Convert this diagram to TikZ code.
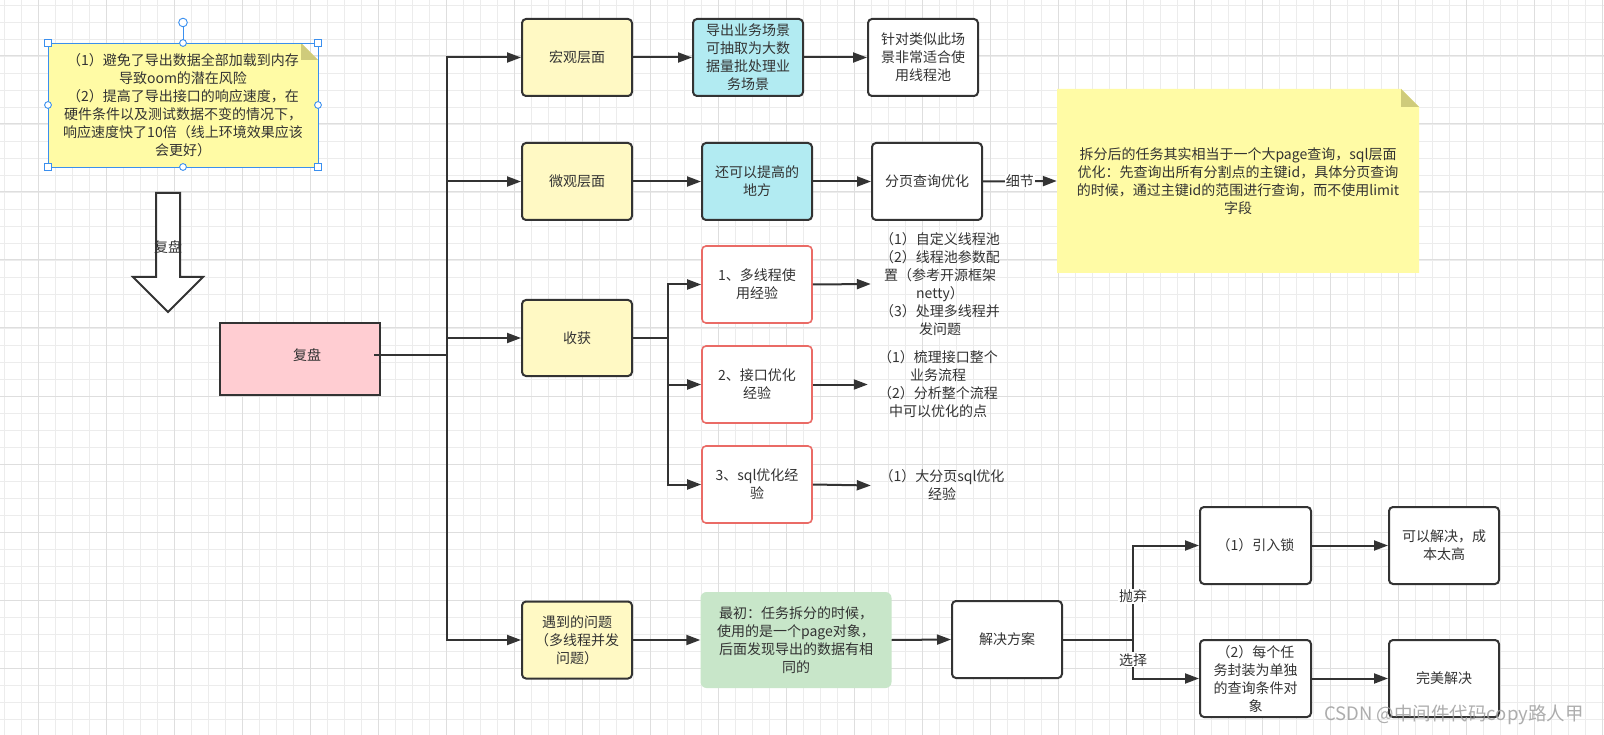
\documentclass[tikz,border=0pt]{standalone}
\usepackage{fontspec}
\setmainfont{Noto Sans CJK SC}
\usetikzlibrary{arrows.meta,calc}
\definecolor{dk}{HTML}{333333}
\definecolor{yl}{HTML}{FFF9C4}
\definecolor{cy}{HTML}{B2EBF2}
\definecolor{gn}{HTML}{C8E6C9}
\definecolor{pk}{HTML}{FFCDD2}
\definecolor{rd}{HTML}{EA6B66}
\definecolor{notey}{HTML}{FFFBA5}
\definecolor{foldc}{HTML}{CFCB7B}
\definecolor{selc}{HTML}{3A8FEF}
\definecolor{gmin}{RGB}{236,236,236}
\definecolor{gmaj}{RGB}{222,222,222}
\begin{document}
\begin{tikzpicture}[x=1pt,y=-1pt,
  txt/.style={font=\fontsize{14}{18}\selectfont, text=dk, align=center},
  box/.style={txt, draw=dk, line width=2pt, rounded corners=4pt, minimum width=110pt, minimum height=77pt, inner sep=2pt},
  ybox/.style={box, fill=yl},
  cbox/.style={box, fill=cy},
  wbox/.style={box, fill=white},
  rbox/.style={box, draw=rd, line width=1.6pt, fill=white},
  gbox/.style={txt, fill=gn, rounded corners=6pt, minimum width=191pt, minimum height=96pt, inner sep=2pt},
  arr/.style={draw=dk, line width=2pt, -{Triangle[length=14pt,width=10pt]}},
  lbl/.style={txt, fill=white, inner sep=1pt},
  plain/.style={txt, inner sep=0pt},
  sel/.style={draw=selc, line width=0.9pt},
]
\useasboundingbox (0,0) rectangle (1604,735);
\fill[white] (0,0) rectangle (1604,735);
% grid
\foreach \i in {0,...,96} \draw[gmin, line width=0.9pt] ({-30+\i*17},0) -- ({-30+\i*17},735);
\foreach \j in {0,...,44} \draw[gmin, line width=0.9pt] (0,{-12+\j*17}) -- (1604,{-12+\j*17});
\foreach \i in {0,...,24} \draw[gmaj, line width=1pt] ({-30+\i*68},0) -- ({-30+\i*68},735);
\foreach \j in {0,...,11} \draw[gmaj, line width=1pt] (0,{-12+\j*68}) -- (1604,{-12+\j*68});

% top-left note
\fill[notey] (48,43) -- (301,43) -- (318,60) -- (318,167) -- (48,167) -- cycle;
\fill[foldc] (301,43) -- (318,60) -- (301,60) -- cycle;
\node[plain] (n1) at (183,105) {（1）避免了导出数据全部加载到内存\\导致oom的潜在风险\\（2）提高了导出接口的响应速度，在\\硬件条件以及测试数据不变的情况下，\\响应速度快了10倍（线上环境效果应该\\会更好）};
% selection handles
\draw[sel] (48,43) rectangle (318,167);
\draw[sel] (183,43) -- (183,27);
\draw[sel, fill=white] (183,22.5) circle (4.3pt);
\foreach \p in {(48,43),(318,43),(48,167),(318,167)} \draw[sel, fill=white] \p ++(-3.5,-3.5) rectangle ++(7,7);
\foreach \p in {(183,43),(48,105),(318,105),(183,167)} \draw[sel, fill=white] \p circle (3.4pt);

% big hollow arrow
\draw[dk, line width=2pt, fill=white, line join=miter] (156,193) -- (180,193) -- (180,277) -- (203,277) -- (168,312) -- (133,277) -- (156,277) -- cycle;
\node[plain] (fpa) at (168,247) {复盘};

% root
\node[draw=dk, line width=2pt, fill=pk, minimum width=160pt, minimum height=72pt] (fp) at (300,359) {};
\node[plain] (fpt) at (307,355) {复盘};
\coordinate (fpout) at (374,355);

% level 1
\node[ybox] (hg) at (577,57.5) {宏观层面};
\node[ybox] (wg) at (577,181.5) {微观层面};
\node[ybox, minimum height=76pt] (sh) at (577,338) {收获};
\node[ybox] (yd) at (577,640) {遇到的问题\\（多线程并发\\问题）};

% macro row
\node[cbox] (dc) at (748,57.5) {导出业务场景\\可抽取为大数\\据量批处理业\\务场景};
\node[wbox] (zd) at (923,57.5) {针对类似此场\\景非常适合使\\用线程池};
% micro row
\node[cbox] (hk) at (757,181.5) {还可以提高的\\地方};
\node[wbox] (fy) at (927,181.5) {分页查询优化};
% right note
\fill[notey] (1057,89) -- (1401,89) -- (1419,107) -- (1419,273) -- (1057,273) -- cycle;
\fill[foldc] (1401,89) -- (1419,107) -- (1401,107) -- cycle;
\node[plain, minimum width=362pt, minimum height=184pt] (n2) at (1238,181) {拆分后的任务其实相当于一个大page查询，sql层面\\优化：先查询出所有分割点的主键id，具体分页查询\\的时候，通过主键id的范围进行查询，而不使用limit\\字段};

% harvest
\node[rbox] (r1) at (757,284.5) {1、多线程使\\用经验};
\node[rbox] (r2) at (757,384.5) {2、接口优化\\经验};
\node[rbox] (r3) at (757,484.5) {3、sql优化经\\验};
\node[plain, text width=138pt] (t1) at (940,284) {（1）自定义线程池\\（2）线程池参数配\\置（参考开源框架\\netty）\\（3）处理多线程并\\发问题};
\node[plain, text width=140pt] (t2) at (938,384.5) {（1）梳理接口整个\\业务流程\\（2）分析整个流程\\中可以优化的点};
\node[plain, text width=142pt] (t3) at (942,485.5) {（1）大分页sql优化\\经验};

% problems
\node[gbox] (gr) at (796,640) {最初：任务拆分的时候，\\使用的是一个page对象，\\后面发现导出的数据有相\\同的};
\node[wbox] (js) at (1007,639.5) {解决方案};
\node[wbox, minimum width=111pt] (l1) at (1255.5,545.5) {（1）引入锁};
\node[wbox] (cb) at (1444,545.5) {可以解决，成\\本太高};
\node[wbox, minimum width=111pt] (l2) at (1255.5,678.5) {（2）每个任\\务封装为单独\\的查询条件对\\象};
\node[wbox] (wm) at (1444,678.5) {完美解决};

% connectors from root
\draw[arr] (fpout) -- ++(73,0) |- (hg.west);
\draw[arr] (fpout) -- ++(73,0) |- (wg.west);
\draw[arr] (fpout) -- ++(73,0) |- (sh.west);
\draw[arr] (fpout) -- ++(73,0) |- (yd.west);

\draw[arr] (hg.east) -- (dc.west);
\draw[arr] (dc.east) -- (zd.west);
\draw[arr] (wg.east) -- (hk.west);
\draw[arr] (hk.east) -- (fy.west);
\draw[arr] (fy.east) -- node[lbl, name=xj] {细节} (n2.west);

\draw[arr] (sh.east) -- ++(35,0) |- (r1.west);
\draw[arr] (sh.east) -- ++(35,0) |- (r2.west);
\draw[arr] (sh.east) -- ++(35,0) |- (r3.west);
\draw[arr] (r1.east) -- (t1.west);
\draw[arr] (r2.east) -- (t2.west);
\draw[arr] (r3.east) -- (t3.west);

\draw[arr] (yd.east) -- (gr.west);
\draw[arr] (gr.east) -- (js.west);
\draw[arr] (js.east) -- ++(70,0) |- node[lbl, pos=0.23, name=pq] {抛弃} (l1.west);
\draw[arr] (js.east) -- ++(70,0) |- node[lbl, pos=0.26, name=xz] {选择} (l2.west);
\draw[arr] (l1.east) -- (cb.west);
\draw[arr] (l2.east) -- (wm.west);

% watermark
\node[font=\fontsize{18.5}{20}\selectfont, text=gray!75, opacity=0.85, inner sep=0pt] (wmk) at (1454,715) {CSDN @中间件代码copy路人甲};
\end{tikzpicture}
\end{document}
